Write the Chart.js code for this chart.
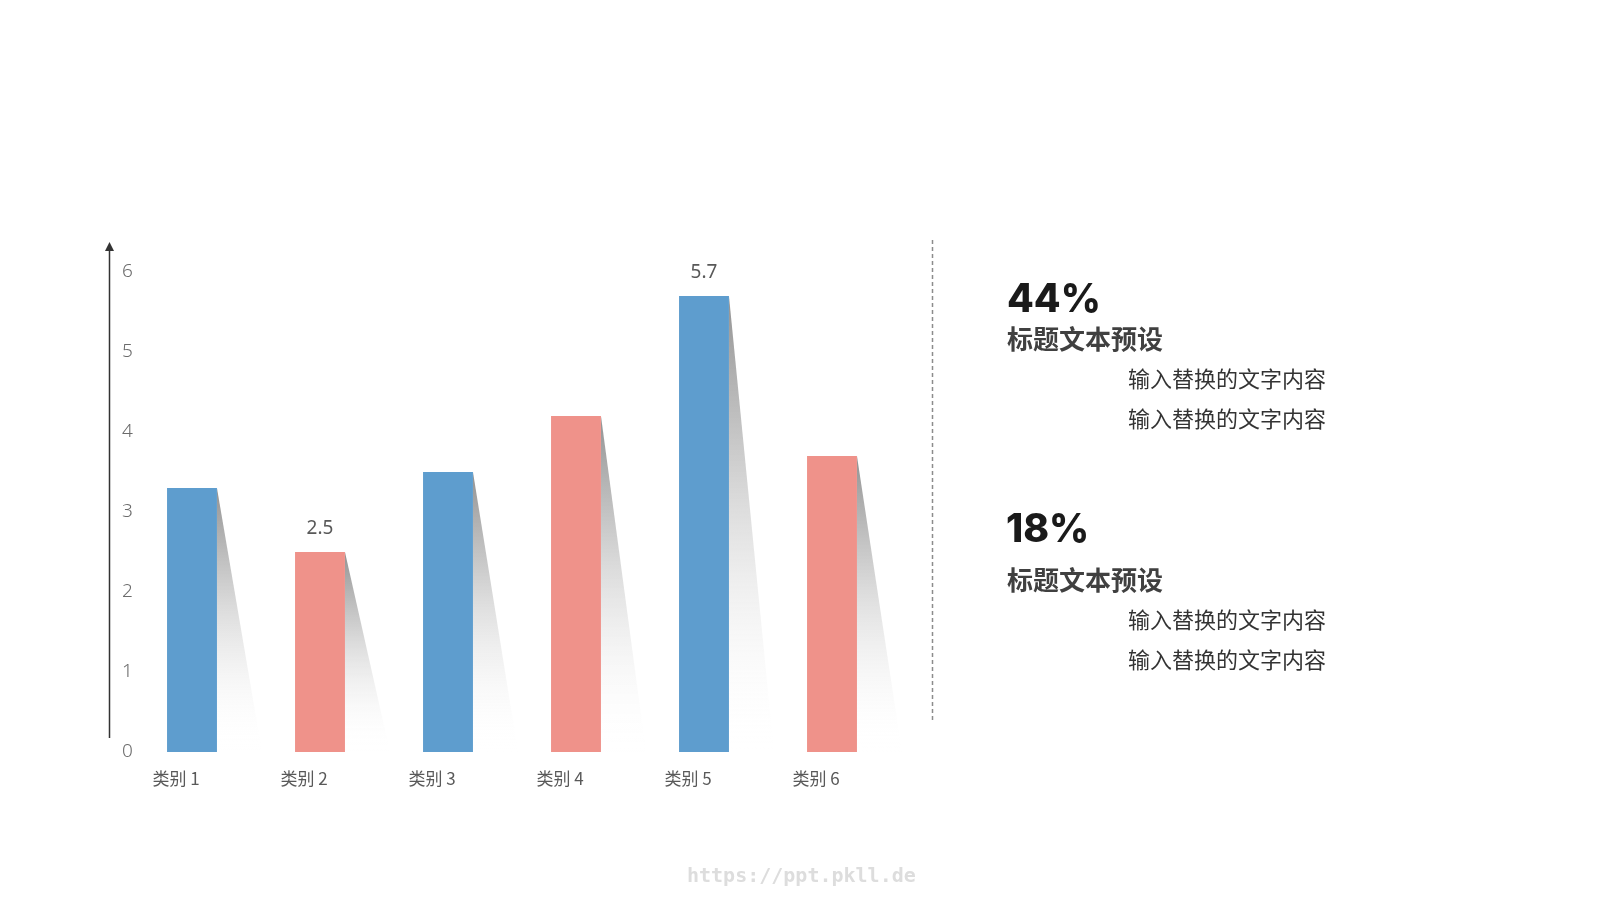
<!DOCTYPE html>
<html lang="zh">
<head>
<meta charset="utf-8">
<title>类别柱状图</title>
<script src="https://cdn.jsdelivr.net/npm/chart.js@4/dist/chart.umd.min.js"></script>
<style>
    html, body { margin: 0; padding: 0; background: #ffffff; }
    #wrap { position: relative; width: 1600px; height: 900px; overflow: hidden; }
    #chart { position: absolute; left: 0; top: 0; }
    .txt { position: absolute; white-space: nowrap; font-family: "Noto Sans CJK SC", "Noto Sans", sans-serif; }
    .pct { font-family: Inter, "Open Sans", sans-serif; font-weight: 800; font-size: 39px; line-height: 40px; color: #1a1a1a; }
    .head { font-weight: 700; font-size: 26px; line-height: 26px; color: #404040; }
    .line { font-size: 22px; line-height: 22px; color: #333333; }
    .mark { font-family: "DejaVu Sans Mono", monospace; font-weight: 700; font-size: 20px; line-height: 20px; color: #dddddd; }
</style>
</head>
<body>
<div id="wrap">
    <canvas id="chart" width="1600" height="900"></canvas>

    <div class="txt pct" style="left:1007px; top:278px;">44%</div>
    <div class="txt head" style="left:1007px; top:325px;">标题文本预设</div>
    <div class="txt line" style="left:1128px; top:366px;">输入替换的文字内容</div>
    <div class="txt line" style="left:1128px; top:406px;">输入替换的文字内容</div>

    <div class="txt pct" style="left:1006px; top:508px;">18%</div>
    <div class="txt head" style="left:1007px; top:566px;">标题文本预设</div>
    <div class="txt line" style="left:1128px; top:607px;">输入替换的文字内容</div>
    <div class="txt line" style="left:1128px; top:647px;">输入替换的文字内容</div>

    <div class="txt mark" style="left:687px; top:865px;">https://ppt.pkll.de</div>
</div>

<script>
// chart data
const categories = ['类别 1', '类别 2', '类别 3', '类别 4', '类别 5', '类别 6'];
const values = [3.3, 2.5, 3.5, 4.2, 5.7, 3.7];
const barColors = ['#5E9DCE', '#EF928A', '#5E9DCE', '#EF928A', '#5E9DCE', '#EF928A'];
const yTicks = [0, 1, 2, 3, 4, 5, 6];
const labelledBars = [1, 4]; // only these bars show their value

// gray slanted shadow to the right of each bar
const barShadow = {
    id: 'barShadow',
    beforeDatasetsDraw(chart) {
        const ctx = chart.ctx;
        chart.getDatasetMeta(0).data.forEach(bar => {
            const right = bar.x + bar.width / 2;
            const grad = ctx.createLinearGradient(0, bar.y, 0, bar.base);
            grad.addColorStop(0, 'rgba(140,140,140,0.95)');
            grad.addColorStop(0.45, 'rgba(210,210,210,0.8)');
            grad.addColorStop(1, 'rgba(255,255,255,0)');
            ctx.save();
            ctx.beginPath();
            ctx.moveTo(right, bar.y);
            ctx.lineTo(right + 45, bar.base);
            ctx.lineTo(right, bar.base);
            ctx.closePath();
            ctx.fillStyle = grad;
            ctx.fill();
            ctx.restore();
        });
    }
};

// value labels above selected bars
const valueLabels = {
    id: 'valueLabels',
    afterDatasetsDraw(chart) {
        const ctx = chart.ctx;
        const bars = chart.getDatasetMeta(0).data;
        ctx.save();
        ctx.font = '19px "Noto Sans", "Open Sans", sans-serif';
        ctx.fillStyle = '#595959';
        ctx.textAlign = 'center';
        ctx.textBaseline = 'middle';
        labelledBars.forEach(i => {
            ctx.fillText(values[i].toFixed(1), bars[i].x, bars[i].y - 23);
        });
        ctx.restore();
    }
};

// vertical axis with arrow, plus dashed divider
const decorations = {
    id: 'decorations',
    afterDraw(chart) {
        const ctx = chart.ctx;
        const area = chart.chartArea;
        const axisX = 109.5;
        const tipY = area.top - 30;
        ctx.save();
        ctx.strokeStyle = '#333333';
        ctx.lineWidth = 1.5;
        ctx.beginPath();
        ctx.moveTo(axisX, area.bottom - 14);
        ctx.lineTo(axisX, tipY + 6);
        ctx.stroke();
        ctx.fillStyle = '#333333';
        ctx.beginPath();
        ctx.moveTo(axisX, tipY);
        ctx.lineTo(axisX - 4.5, tipY + 9);
        ctx.lineTo(axisX + 4.5, tipY + 9);
        ctx.closePath();
        ctx.fill();

        ctx.strokeStyle = '#8c8c8c';
        ctx.lineWidth = 1.5;
        ctx.setLineDash([4, 3]);
        ctx.beginPath();
        ctx.moveTo(932.5, 240);
        ctx.lineTo(932.5, 723);
        ctx.stroke();
        ctx.restore();
    }
};

new Chart(document.getElementById('chart'), {
    type: 'bar',
    data: {
        labels: categories,
        datasets: [{
            data: values,
            backgroundColor: barColors,
            borderWidth: 0,
            categoryPercentage: 0.39,
            barPercentage: 1
        }]
    },
    options: {
        responsive: false,
        animation: false,
        layout: {
            padding: { left: 122, right: 704, top: 272, bottom: 0 }
        },
        plugins: {
            legend: { display: false },
            tooltip: { enabled: false }
        },
        scales: {
            x: {
                grid: { display: false, drawTicks: false },
                border: { display: false },
                ticks: {
                    color: '#595959',
                    font: { family: '"Noto Sans CJK SC", sans-serif', size: 17 },
                    padding: 16,
                    labelOffset: -16,
                    maxRotation: 0
                },
                afterFit(scale) { scale.height = 148; }
            },
            y: {
                min: 0,
                max: 6,
                grid: { display: false, drawTicks: false },
                border: { display: false },
                afterBuildTicks(scale) { scale.ticks = yTicks.map(v => ({ value: v })); },
                ticks: {
                    color: '#6b6b6b',
                    font: { family: '"Noto Sans", "Open Sans", sans-serif', size: 19, weight: '300' },
                    mirror: true,
                    crossAlign: 'center',
                    padding: -6
                },
                afterFit(scale) { scale.width = 6; }
            }
        }
    },
    plugins: [barShadow, valueLabels, decorations]
});
</script>
</body>
</html>
